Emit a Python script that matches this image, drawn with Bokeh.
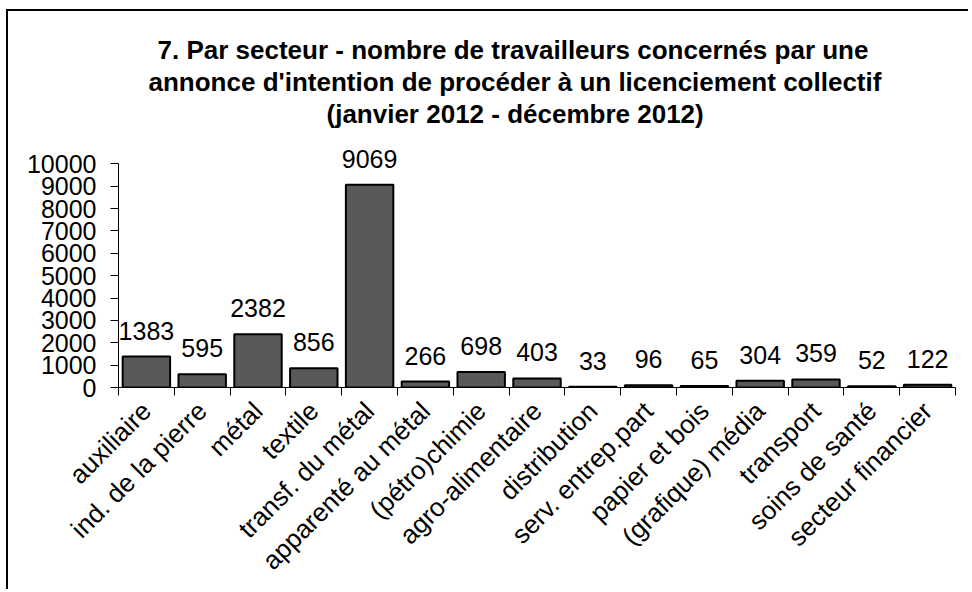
from bokeh.plotting import figure
from bokeh.models import FixedTicker, Title, ColumnDataSource, Range1d, LabelSet
from bokeh.core.properties import value
from bokeh.embed import file_html
from bokeh.resources import INLINE
import math

categories = ["auxiliaire", "ind. de la pierre", "métal", "textile", "transf. du métal",
              "apparenté au métal", "(pétro)chimie", "agro-alimentaire", "distribution",
              "serv. entrep.part", "papier et bois", "(grafique) média", "transport",
              "soins de santé", "secteur financier"]
values = [1383, 595, 2382, 856, 9069, 266, 698, 403, 33, 96, 65, 304, 359, 52, 122]
y_ticks = [0, 1000, 2000, 3000, 4000, 5000, 6000, 7000, 8000, 9000, 10000]
title_lines = ["7. Par secteur -  nombre de travailleurs concernés par une",
               "annonce d'intention de procéder à un licenciement  collectif",
               "(janvier 2012 - décembre 2012)"]
title_offsets = [39, 30, 208]

FONT = "Liberation Sans"
xs = list(range(1, len(categories) + 1))
src = ColumnDataSource(dict(x=xs, top=values, label=[str(v) for v in values]))

p = figure(width=962, height=580, output_backend="svg", toolbar_location=None,
           title=None, x_range=Range1d(0.5, len(categories) + 0.5),
           y_range=Range1d(0, 11000),
           min_border_left=110, min_border_right=15, min_border_bottom=204, min_border_top=130)

# spacer between title block and plot area
p.add_layout(Title(text=" ", text_font_size="1px", standoff=10), "above")
for line, off in reversed(list(zip(title_lines, title_offsets))):
    t = Title(text=line, align="left", offset=off, text_font=FONT, text_font_size="26px",
              text_font_style="bold", text_color="black", standoff=0)
    p.add_layout(t, "above")

p.vbar(x="x", top="top", width=0.85, source=src, fill_color="#595959",
       line_color="black", line_width=2)
labels = LabelSet(x="x", y="top", text="label", source=src, text_font=value(FONT),
                  text_font_size=value("25px"), text_align="center",
                  text_baseline="alphabetic", y_offset=17, text_color="black")
p.add_layout(labels)

p.xgrid.visible = False
p.ygrid.visible = False
p.outline_line_color = None
p.background_fill_color = "white"
p.border_fill_color = "white"

xa = p.xaxis[0]
xa.ticker = FixedTicker(ticks=xs, minor_ticks=[x - 0.5 for x in xs] + [len(xs) + 0.5])
xa.major_label_overrides = {x: c for x, c in zip(xs, categories)}
xa.major_label_orientation = math.pi / 4
xa.major_tick_out = 0
xa.major_tick_in = 0
xa.minor_tick_out = 8
xa.minor_tick_in = 0
xa.minor_tick_line_color = "black"
xa.axis_line_color = "black"
xa.major_label_text_font = FONT
xa.major_label_text_font_size = "26px"
xa.major_label_text_color = "black"
xa.major_label_standoff = 11

ya = p.yaxis[0]
ya.ticker = FixedTicker(ticks=y_ticks, minor_ticks=[])
ya.bounds = (y_ticks[0], y_ticks[-1])
ya.major_tick_out = 8
ya.major_tick_in = 0
ya.minor_tick_out = 0
ya.major_tick_line_color = "black"
ya.axis_line_color = "black"
ya.major_label_text_font = FONT
ya.major_label_text_font_size = "25px"
ya.major_label_text_color = "black"
ya.major_label_standoff = 14

p.styles = {"margin-top": "9px", "margin-left": "6px",
            "border-top": "2px solid black", "border-left": "2px solid black"}

open("out.html", "w").write(file_html(p, INLINE))
